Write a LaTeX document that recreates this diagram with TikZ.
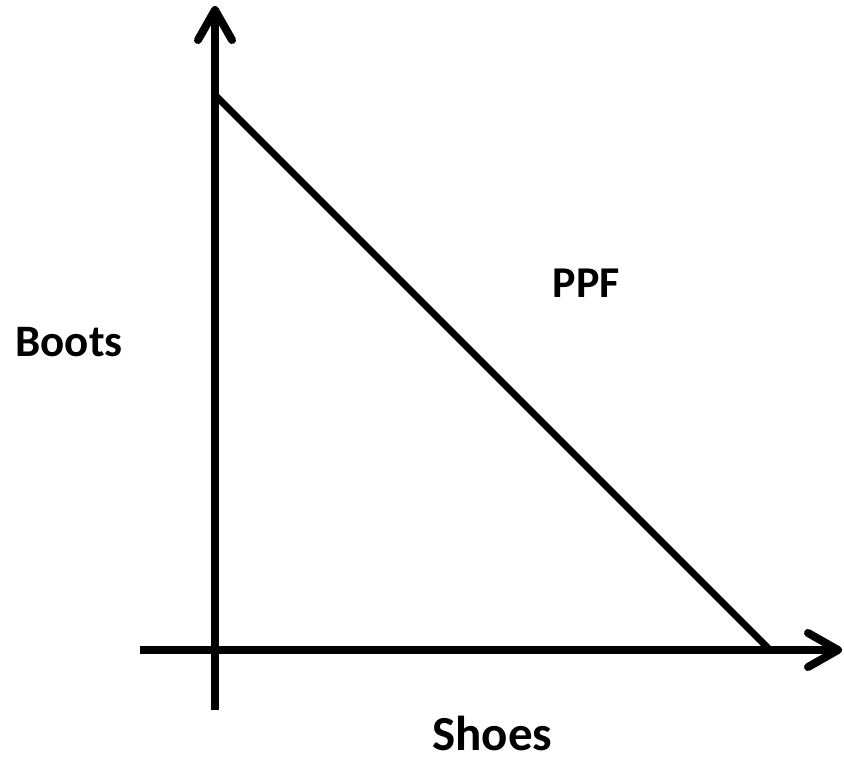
\documentclass[tikz,border=0pt]{standalone}
\usepackage{fontspec}
\setmainfont{Carlito}
\usetikzlibrary{arrows.meta}
\begin{document}
\begin{tikzpicture}[x=1pt,y=-1pt,
  axis/.style={line width=8pt,-{Straight Barb[length=30pt,width=34pt,round]}},
  curve/.style={line width=7pt},
  lbl/.style={font=\bfseries, inner sep=0pt, anchor=base}]
\useasboundingbox (0,0) rectangle (844,759);
\coordinate (ybot) at (215,710);
\coordinate (ytop) at (215,6);
\coordinate (xleft) at (140,650);
\coordinate (xright) at (842,650);
\coordinate (ppfa) at (215,95);
\coordinate (ppfb) at (770,650);
\draw[axis] (ybot) -- (ytop);
\draw[axis] (xleft) -- (xright);
\draw[curve] (ppfa) -- (ppfb);
\node[lbl, font=\fontsize{45}{52}\selectfont\bfseries] (boots) at (69,357) {Boots};
\node[lbl, font=\fontsize{44}{52}\selectfont\bfseries] (ppf) at (586.5,298) {PPF};
\node[lbl, text depth=0pt, font=\fontsize{49}{56}\selectfont\bfseries] (shoes) at (492.5,750) {Shoes};
\end{tikzpicture}
\end{document}
